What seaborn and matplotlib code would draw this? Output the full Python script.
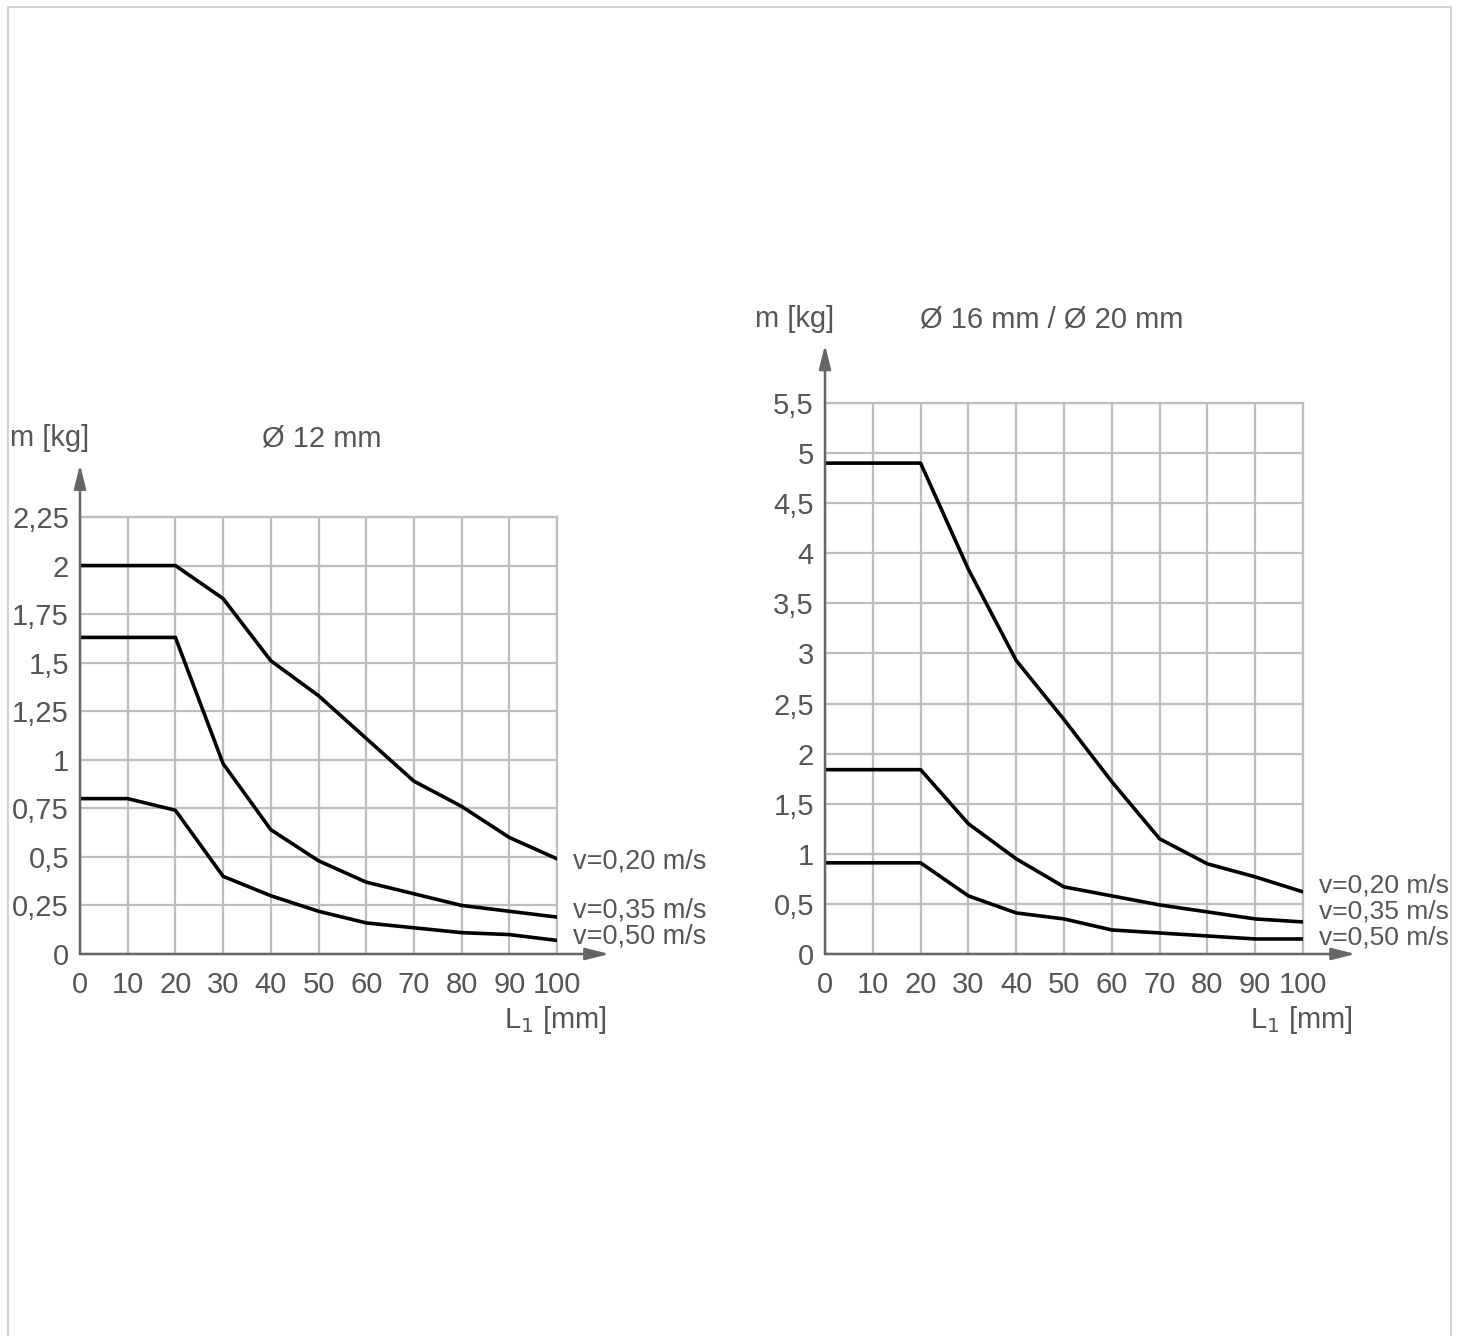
import numpy as np
import pandas as pd
import seaborn as sns
import matplotlib.pyplot as plt
from matplotlib.patches import Rectangle

# Daten
L1 = [0, 10, 20, 30, 40, 50, 60, 70, 80, 90, 100]
speeds = ["v=0,20 m/s", "v=0,35 m/s", "v=0,50 m/s"]

# Ø 12 mm
m12_v020 = [2.00, 2.00, 2.00, 1.83, 1.51, 1.33, 1.11, 0.89, 0.76, 0.60, 0.49]
m12_v035 = [1.63, 1.63, 1.63, 0.98, 0.64, 0.48, 0.37, 0.31, 0.25, 0.22, 0.19]
m12_v050 = [0.80, 0.80, 0.74, 0.40, 0.30, 0.22, 0.16, 0.135, 0.11, 0.10, 0.07]

# Ø 16 mm / Ø 20 mm
m16_v020 = [4.90, 4.90, 4.90, 3.84, 2.93, 2.34, 1.72, 1.15, 0.90, 0.77, 0.62]
m16_v035 = [1.84, 1.84, 1.84, 1.30, 0.95, 0.67, 0.58, 0.49, 0.42, 0.35, 0.32]
m16_v050 = [0.91, 0.91, 0.91, 0.58, 0.41, 0.35, 0.24, 0.21, 0.18, 0.15, 0.15]

y12_ticks = [0, 0.25, 0.5, 0.75, 1, 1.25, 1.5, 1.75, 2, 2.25]
y16_ticks = [0, 0.5, 1, 1.5, 2, 2.5, 3, 3.5, 4, 4.5, 5, 5.5]
x_ticks = L1

sns.set_theme(style="white")
plt.rcParams['font.family'] = ['Liberation Sans', 'DejaVu Sans']

txt = "#555555"
gridc = "#bdbdbd"
W, H = 1459, 1336
fs = 21

fig = plt.figure(figsize=(W / 100, H / 100), dpi=100)
fig.patches.append(Rectangle((8 / W, -0.01), (1451 - 8) / W, 0.9948 + 0.01,
                             transform=fig.transFigure, fill=False,
                             edgecolor="#cccccc", lw=1.2))


def ftext(x, y, s, **kw):
    # Text in Pixelkoordinaten (von oben links)
    fig.text(x / W, 1 - y / H, s, fontsize=fs, color=txt, va="center", **kw)


def panel(rect, series, yticks, ytop, arrow_y, label_ys, label_fs):
    ax = fig.add_axes(rect)
    df = pd.DataFrame({
        "L1": L1 * 3,
        "m": series[0] + series[1] + series[2],
        "v": np.repeat(speeds, len(L1)),
    })
    sns.lineplot(data=df, x="L1", y="m", hue="v", palette=["black"] * 3,
                 linewidth=2.6, legend=False, ax=ax, zorder=3)
    ax.set_xlim(0, 100)
    ax.set_ylim(0, ytop)
    ax.set_xticks(x_ticks)
    ax.set_yticks(yticks)
    ax.set_xticklabels([str(t) for t in x_ticks])
    ax.set_yticklabels([("%g" % t).replace(".", ",") for t in yticks])
    ax.tick_params(length=0, labelsize=fs, colors=txt, pad=8)
    ax.tick_params(axis="x", pad=12)
    ax.grid(True, color=gridc, lw=1.6)
    for s in ["left", "bottom"]:
        ax.spines[s].set_visible(False)
    for s in ["top", "right"]:
        ax.spines[s].set_color(gridc)
        ax.spines[s].set_linewidth(1.6)
    ax.set_xlabel("")
    ax.set_ylabel("")
    # Achsen mit Pfeilen
    ax.annotate("", xy=(0, arrow_y), xytext=(0, 0), annotation_clip=False,
                arrowprops=dict(arrowstyle="-|>,head_length=1.2,head_width=0.3",
                                color="#666666", lw=1.8, shrinkA=0, shrinkB=0))
    ax.annotate("", xy=(111, 0), xytext=(0, 0), annotation_clip=False,
                arrowprops=dict(arrowstyle="-|>,head_length=1.2,head_width=0.3",
                                color="#666666", lw=1.8, shrinkA=0, shrinkB=0))
    for lab, yy in zip(speeds, label_ys):
        ax.text(103.3, yy, lab, fontsize=label_fs, color=txt, va="center", ha="left")
    return ax


panel([80 / W, (H - 954) / H, 477 / W, 437 / H],
      [m12_v020, m12_v035, m12_v050], y12_ticks, 2.25, 2.52,
      [0.475, 0.225, 0.09], 19.5)
panel([825 / W, (H - 954) / H, 478 / W, 551 / H],
      [m16_v020, m16_v035, m16_v050], y16_ticks, 5.5, 6.08,
      [0.68, 0.42, 0.16], 19)

ftext(10, 438, "m [kg]", ha="left")
ftext(262, 438, "Ø 12 mm", ha="left")
ftext(607, 1020, "L$_1$ [mm]", ha="right")
ftext(755, 319, "m [kg]", ha="left")
ftext(920, 319, "Ø 16 mm / Ø 20 mm", ha="left")
ftext(1353, 1020, "L$_1$ [mm]", ha="right")

fig.savefig("out.png", dpi=100)
